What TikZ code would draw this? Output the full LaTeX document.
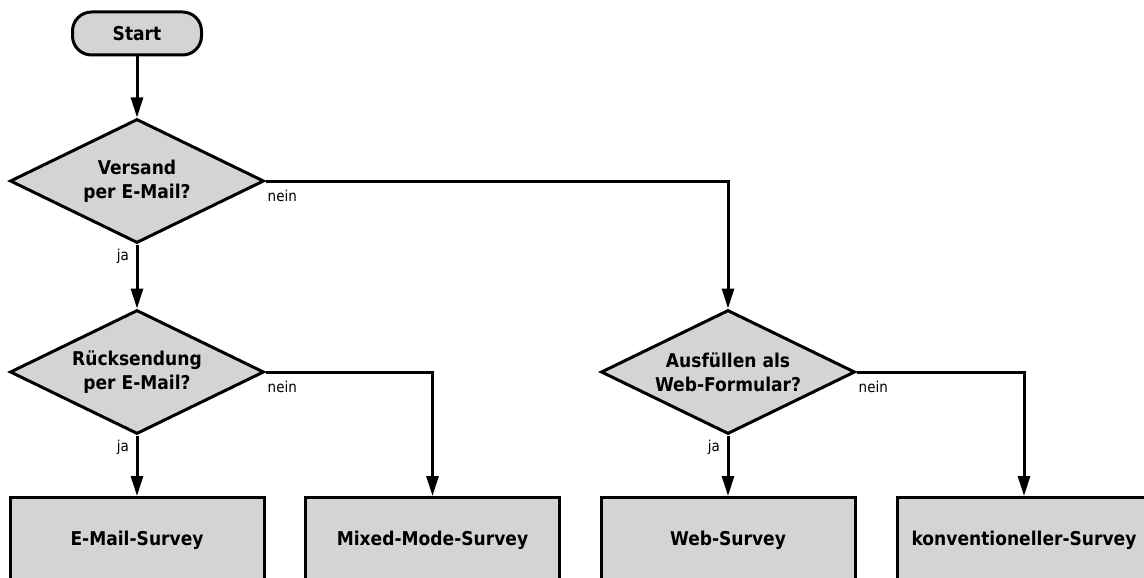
\documentclass[tikz,border=0pt]{standalone}
\usepackage{fontspec}
\setmainfont{DejaVu Sans Condensed}
\usetikzlibrary{shapes.geometric,arrows.meta}

\definecolor{boxfill}{HTML}{D4D4D4}

\tikzset{
  base/.style={draw=black, line width=3pt, fill=boxfill, inner sep=0pt,
               font=\fontsize{19}{24}\selectfont\bfseries, align=center},
  startbox/.style={base, rectangle, rounded corners=19pt,
                   minimum width=129pt, minimum height=43pt},
  decision/.style={base, diamond, shape aspect=2.05,
                   minimum width=254pt, minimum height=124pt},
  outcome/.style={base, rectangle, minimum width=254pt, minimum height=86pt},
  flow/.style={draw=black, line width=3pt,
               -{Triangle[length=20pt,width=12pt]}},
  answer/.style={font=\fontsize{15}{17}\selectfont, inner sep=0pt}
}

\begin{document}
\begin{tikzpicture}[x=1pt,y=-1pt]
  \useasboundingbox (0,0) rectangle (1144,578);
  \clip (0,0) rectangle (1144,578);

  % start and decisions
  \node[startbox] (start) at (137,33.5) {Start};
  \node[decision] (d1) at (137,181) {Versand\\per E-Mail?};
  \node[decision] (d2) at (137,372) {Rücksendung\\per E-Mail?};
  \node[decision] (d3) at (728,372) {Ausfüllen als\\Web-Formular?};

  % resulting survey types
  \node[outcome] (b1) at (137,540.5) {E-Mail-Survey};
  \node[outcome] (b2) at (432.5,540.5) {Mixed-Mode-Survey};
  \node[outcome] (b3) at (728,540.5) {Web-Survey};
  \node[outcome] (b4) at (1024,540.5) {konventioneller-Survey};

  % connectors
  \draw[flow] (start.south) -- (d1.north);
  \draw[flow] (d1.south) -- (d2.north);
  \draw[flow] (d1.east) -| (d3.north);
  \draw[flow] (d2.south) -- (b1.north);
  \draw[flow] (d2.east) -| (b2.north);
  \draw[flow] (d3.south) -- (b3.north);
  \draw[flow] (d3.east) -| (b4.north);

  % answer labels
  \node[answer, anchor=north west] (n1) at ([xshift=2pt,yshift=-9pt]d1.east) {nein};
  \node[answer, anchor=north east] (j1) at ([xshift=-8pt,yshift=-4pt]d1.south) {ja};
  \node[answer, anchor=north west] (n2) at ([xshift=2pt,yshift=-9pt]d2.east) {nein};
  \node[answer, anchor=north east] (j2) at ([xshift=-8pt,yshift=-4pt]d2.south) {ja};
  \node[answer, anchor=north west] (n3) at ([xshift=2pt,yshift=-9pt]d3.east) {nein};
  \node[answer, anchor=north east] (j3) at ([xshift=-8pt,yshift=-4pt]d3.south) {ja};
\end{tikzpicture}
\end{document}
